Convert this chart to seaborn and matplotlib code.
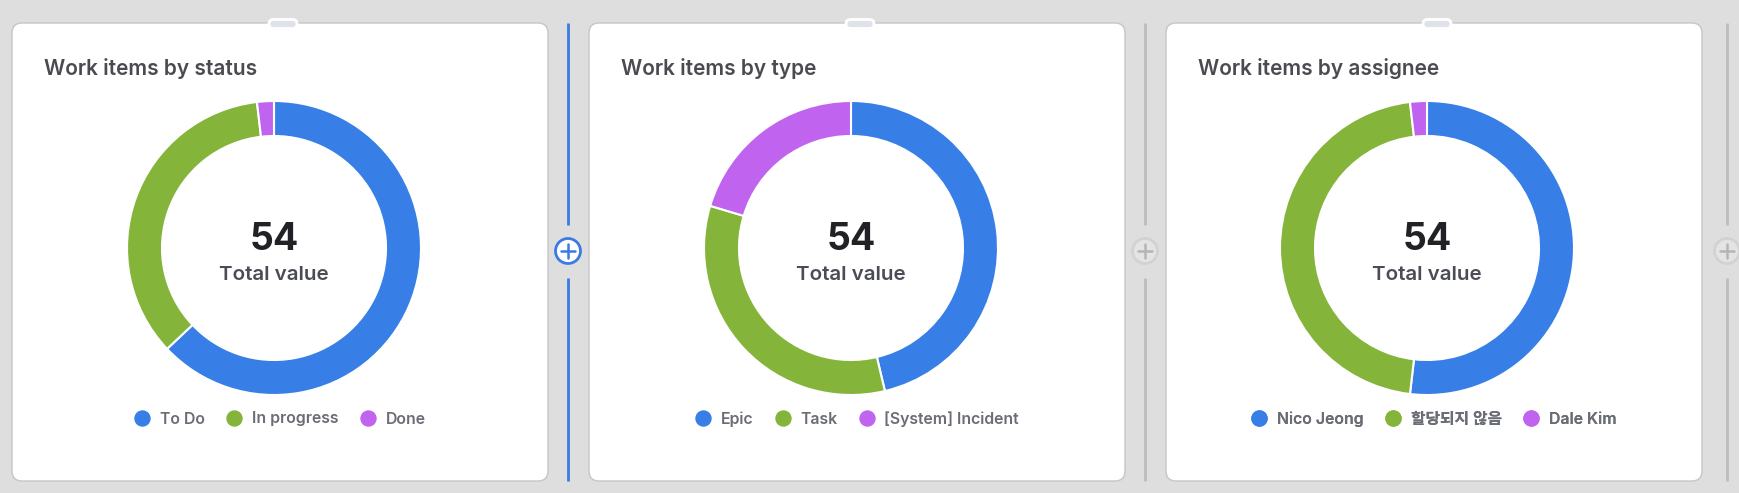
import matplotlib
matplotlib.use("Agg")
import matplotlib.pyplot as plt
import seaborn as sns
from matplotlib.patches import FancyBboxPatch, Circle
from matplotlib.lines import Line2D

# ---- data ----
titles = ["Work items by status", "Work items by type", "Work items by assignee"]
status_labels = ["To Do", "In progress", "Done"]
status_values = [34, 19, 1]
type_labels = ["Epic", "Task", "[System] Incident"]
type_values = [25, 18, 11]
assignee_labels = ["Nico Jeong", "할당되지 않음", "Dale Kim"]
assignee_values = [28, 25, 1]
center_label = "Total value"

palette = ["#377fe6", "#84b53a", "#c064f0"]

sns.set_theme(style="white")
plt.rcParams["font.family"] = ["Inter", "Noto Sans CJK KR", "DejaVu Sans"]

W, H = 1739, 493
fig = plt.figure(figsize=(W / 100, H / 100), dpi=100)
fig.patch.set_facecolor("#dedede")

bg = fig.add_axes([0, 0, 1, 1])
bg.set_xlim(0, W)
bg.set_ylim(H, 0)
bg.axis("off")
bg.set_facecolor("none")

cards = [(12, 548), (589, 1125), (1166, 1702)]
card_top, card_bot = 23, 481
donut_cx = [274, 851, 1427]
donut_cy = 248
R = 147

datasets = [(status_labels, status_values), (type_labels, type_values),
            (assignee_labels, assignee_values)]

for (x0, x1), title, cx, (labels, values) in zip(cards, titles, donut_cx, datasets):
    card = FancyBboxPatch((x0, card_top), x1 - x0, card_bot - card_top,
                          boxstyle="round,pad=0,rounding_size=10",
                          facecolor="white", edgecolor="#c6c6c6", linewidth=1.0, zorder=1)
    bg.add_patch(card)
    ccx = (x0 + x1) / 2
    tab = FancyBboxPatch((ccx - 11, 19.5), 28, 9,
                         boxstyle="round,pad=0,rounding_size=4.5",
                         facecolor="#dfe2e8", edgecolor="white", linewidth=2.0, zorder=2)
    bg.add_patch(tab)
    bg.text(x0 + 32, 68.5, title, fontsize=15.0, fontweight="semibold",
            color="#4a4a50", ha="left", va="center", zorder=3)
    bg.text(cx, 240, str(sum(values)), fontsize=27, fontweight="bold",
            color="#222226", ha="center", va="center", zorder=3)
    bg.text(cx, 275.5, center_label, fontsize=14.8, fontweight="semibold",
            color="#4b4d55", ha="center", va="center", zorder=3)

    # donut axes
    m = 1.03
    side = 2 * R * m
    ax = fig.add_axes([(cx - side / 2) / W, (H - donut_cy - side / 2) / H, side / W, side / H])
    ax.pie(values, colors=palette, startangle=90, counterclock=False, radius=1,
           wedgeprops=dict(width=35 / R, edgecolor="white", linewidth=1.5))
    ax.set_xlim(-m, m)
    ax.set_ylim(-m, m)
    ax.set_aspect("equal")
    ax.axis("off")

    handles = [Line2D([0], [0], marker="o", linestyle="none", markersize=10.8,
                      markerfacecolor=c, markeredgecolor=c) for c in palette]
    leg = bg.legend(handles, labels, loc="center", bbox_to_anchor=(ccx, 419),
                    bbox_transform=bg.transData, ncol=3, frameon=False,
                    handlelength=1.0, handletextpad=0.62, columnspacing=1.35,
                    borderpad=0, prop=dict(size=11.4, weight="semibold"))
    for t in leg.get_texts():
        t.set_color("#6b6d76")
    bg.add_artist(leg)

# separators
seps = [(568, "#3b7be0", "white", "#3b7be0", "#3b7be0"),
        (1145, "#bdbdbd", "#e4e4e4", "#d2d2d2", "#b5b5b5"),
        (1727, "#bdbdbd", "#e4e4e4", "#d2d2d2", "#b5b5b5")]
for x, lc, fc, ec, pc in seps:
    bg.plot([x, x], [card_top, 225], color=lc, linewidth=2, solid_capstyle="butt", zorder=2)
    bg.plot([x, x], [278, card_bot], color=lc, linewidth=2, solid_capstyle="butt", zorder=2)
    bg.add_patch(Circle((x, 251), 12.5, facecolor=fc, edgecolor=ec, linewidth=2, zorder=3))
    bg.plot([x - 7, x + 7], [251, 251], color=pc, linewidth=1.8, zorder=4)
    bg.plot([x, x], [244, 258], color=pc, linewidth=1.8, zorder=4)

fig.savefig("out.png", dpi=100, facecolor=fig.get_facecolor())
